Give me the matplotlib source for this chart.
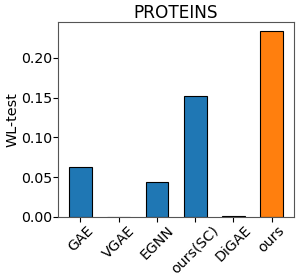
import matplotlib
matplotlib.use("Agg")
import matplotlib.pyplot as plt

methods = ["GAE", "VGAE", "EGNN", "ours(SC)", "DiGAE", "ours"]
wl_test = [0.0627, 0.0003, 0.0445, 0.1525, 0.0012, 0.2332]
colors = ["#1f77b4"] * 5 + ["#ff7f0e"]

fig, ax = plt.subplots(figsize=(2.99, 2.8), dpi=100)
ax.bar(methods, wl_test, width=0.6, color=colors, edgecolor="black", linewidth=0.8)
ax.set_title("PROTEINS", fontsize=12.2, pad=3)
ax.set_ylabel("WL-test", fontsize=10.4, labelpad=1)
ax.tick_params(axis="both", labelsize=10.2, pad=1, length=3.5)
plt.setp(ax.get_xticklabels(), rotation=45, ha="center")
ax.set_yticks([0.0, 0.05, 0.10, 0.15, 0.20])
for s in ax.spines.values():
    s.set_color("#555555")

fig.subplots_adjust(left=0.195, right=0.983, top=0.921, bottom=0.225)
fig.savefig("out.png", dpi=100)
